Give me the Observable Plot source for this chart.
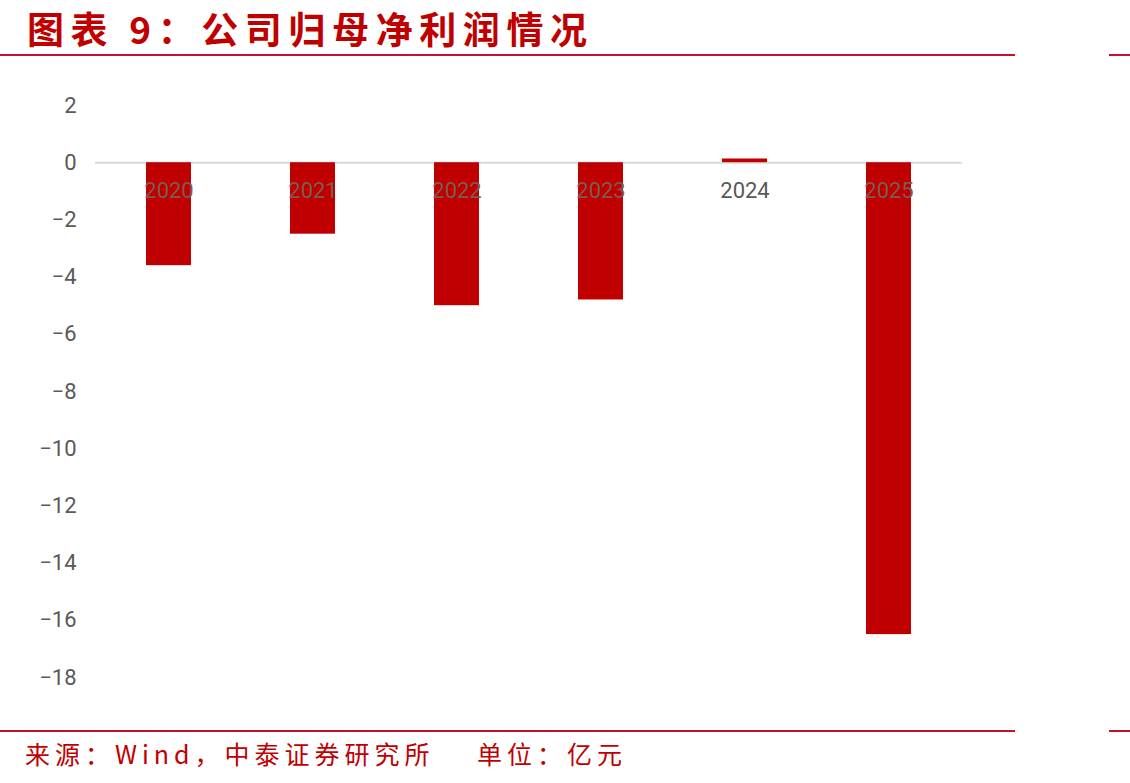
<!DOCTYPE html>
<html>
<head>
<meta charset="utf-8">
<script src="https://cdn.jsdelivr.net/npm/d3@7"></script>
<script src="https://cdn.jsdelivr.net/npm/@observablehq/plot@0.6"></script>
<style>
  html, body { margin: 0; padding: 0; background: #fff; }
  #page { position: relative; width: 1130px; height: 783px; overflow: hidden; }
  #title { position: absolute; left: 27px; top: 1px; font-family: "Noto Sans CJK SC", sans-serif; font-weight: 700;
           font-size: 37px; line-height: 54px; color: #c00000; letter-spacing: 6.6px; white-space: pre; }
  #caption { position: absolute; left: 25px; top: 734px; font-family: "Noto Sans CJK SC", sans-serif; font-weight: 400;
           font-size: 25px; line-height: 38px; color: #c00000; letter-spacing: 5px; white-space: pre; }
  .rule { position: absolute; height: 2px; background: #c8102e; }
  #chart { position: absolute; left: 0; top: 62px; }
</style>
</head>
<body>
<div id="page">
  <div id="title">图表 9：公司归母净利润情况</div>
  <div class="rule" style="left:0;top:54px;width:1015px"></div>
  <div class="rule" style="left:1109px;top:54px;width:21px"></div>
  <div id="chart"></div>
  <div class="rule" style="left:0;top:730px;width:1015px"></div>
  <div class="rule" style="left:1109px;top:730px;width:21px"></div>
  <div id="caption">来源：Wind，中泰证券研究所    单位：亿元</div>
</div>
<script>
const years = ["2020", "2021", "2022", "2023", "2024", "2025"];
const profits = [-3.6, -2.5, -5.0, -4.8, 0.13, -16.5];
const yTicks = [2, 0, -2, -4, -6, -8, -10, -12, -14, -16, -18];

const data = years.map((y, i) => ({year: y, value: profits[i]}));

const chart = Plot.plot({
  width: 1130,
  height: 660,
  marginLeft: 95,
  marginRight: 168,
  marginTop: 0,
  marginBottom: 0,
  style: {fontFamily: "Roboto, 'Noto Sans', sans-serif", background: "transparent", overflow: "visible"},
  x: {domain: years, range: [95, 962], paddingInner: 0.69, paddingOuter: 0.345, axis: null},
  y: {domain: [-18, 2], range: [615, 43], axis: null},
  marks: [
    Plot.ruleY([0], {stroke: "#d9d9d9", strokeWidth: 2}),
    Plot.barY(data, {x: "year", y: "value", fill: "#c00000"}),
    Plot.text(data, {x: "year", y: () => 0, text: "year", dy: 28, fontSize: 22,
      fill: d => d.value < 0 ? "#7d5a52" : "#595959"}),
    Plot.axisY(yTicks, {label: null, tickSize: 0, tickPadding: 19, fontSize: 22, fill: "#595959",
      tickFormat: d => d < 0 ? "\u2212" + Math.abs(d) : String(d)})
  ]
});
document.getElementById("chart").appendChild(chart);
</script>
</body>
</html>
